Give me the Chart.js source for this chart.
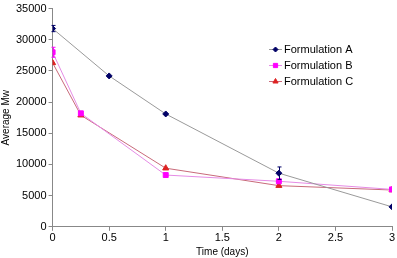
<!DOCTYPE html>
<html>
<head>
<meta charset="utf-8">
<script src="https://cdn.jsdelivr.net/npm/chart.js@4"></script>
<style>
html,body{margin:0;padding:0;background:#fff;}
#wrap{width:397px;height:258px;position:relative;}
</style>
</head>
<body>
<div id="wrap"><canvas id="c" width="397" height="258"></canvas></div>
<script>
// time points (days)
const timesA = [0, 0.5, 1, 2, 3];
const timesB = [0, 0.25, 1, 2, 3];
const timesC = [0, 0.25, 1, 2, 3];

// average Mw
const mwA = [31800, 24200, 18100, 8600, 3200];
const mwB = [28000, 18200, 8300, 7300, 6000];
const mwC = [26300, 17900, 9400, 6600, 5900];

// error (+/-)
const errA = [500, 0, 0, 1000, 0];
const errB = [800, 0, 0, 0, 0];
const errC = [0, 0, 0, 0, 0];

const seriesNames = ['Formulation A', 'Formulation B', 'Formulation C'];
const yTicks = [0, 5000, 10000, 15000, 20000, 25000, 30000, 35000];

function pts(xs, ys, es){
	return xs.map((x, i) => ({x, y: ys[i], e: es[i]}));
}

const fontFam = '"Liberation Sans", Arial, sans-serif';

// error bars, drawn from the dataset values through the scales
const errorBars = {
	id: 'errorBars',
	afterDatasetsDraw(chart) {
		const ctx = chart.ctx;
		const xs = chart.scales.x, ys = chart.scales.y;
		chart.data.datasets.forEach((ds) => {
			ctx.save();
			ctx.strokeStyle = ds.pointBackgroundColor;
			ctx.lineWidth = 1;
			for (const p of ds.data) {
				if (!p.e) continue;
				const px = Math.round(xs.getPixelForValue(p.x)) + 0.5;
				const top = ys.getPixelForValue(p.y + p.e);
				const bot = ys.getPixelForValue(p.y - p.e);
				ctx.beginPath();
				ctx.moveTo(px, top); ctx.lineTo(px, bot);
				ctx.moveTo(px - 2, top); ctx.lineTo(px + 2, top);
				ctx.moveTo(px - 2, bot); ctx.lineTo(px + 2, bot);
				ctx.stroke();
			}
			ctx.restore();
		});
	}
};

// legend inside the plot area, like the original
const innerLegend = {
	id: 'innerLegend',
	afterDraw(chart) {
		const ctx = chart.ctx;
		const x0 = 269, y0 = 49, step = 16;
		ctx.save();
		chart.data.datasets.forEach((ds, i) => {
			const y = y0 + i * step + 0.5;
			ctx.strokeStyle = ds.borderColor;
			ctx.lineWidth = 1;
			ctx.beginPath(); ctx.moveTo(x0, y); ctx.lineTo(x0 + 13, y); ctx.stroke();
			ctx.fillStyle = ds.pointBackgroundColor;
			ctx.strokeStyle = ds.pointBorderColor;
			Chart.helpers.drawPoint(ctx, {
				pointStyle: ds.pointStyle, radius: ds.pointRadius - 0.5, borderWidth: 1
			}, x0 + 6.5, y);
			ctx.fillStyle = '#000';
			ctx.font = '11px ' + fontFam;
			ctx.textBaseline = 'middle';
			ctx.fillText(ds.label, x0 + 15, y);
		});
		ctx.restore();
	}
};

new Chart(document.getElementById('c'), {
	type: 'line',
	data: {
		datasets: [
			{
				label: seriesNames[0],
				data: pts(timesA, mwA, errA),
				borderColor: '#9a9a9a',
				borderWidth: 1,
				pointStyle: 'rectRot',
				pointRadius: 3,
				pointBackgroundColor: '#000066',
				pointBorderColor: '#000066',
				pointBorderWidth: 1
			},
			{
				label: seriesNames[1],
				data: pts(timesB, mwB, errB),
				borderColor: '#e58be5',
				borderWidth: 1,
				pointStyle: 'rect',
				pointRadius: 3.5,
				pointBackgroundColor: '#ff00ff',
				pointBorderColor: '#ff00ff',
				pointBorderWidth: 1
			},
			{
				label: seriesNames[2],
				data: pts(timesC, mwC, errC),
				borderColor: '#c86a7a',
				borderWidth: 1,
				pointStyle: 'triangle',
				pointRadius: 3.5,
				pointBackgroundColor: '#dd2222',
				pointBorderColor: '#dd2222',
				pointBorderWidth: 1
			}
		]
	},
	options: {
		responsive: false,
		animation: false,
		layout: { padding: { left: 0, right: 3, top: 4, bottom: 0 } },
		plugins: { legend: { display: false }, tooltip: { enabled: false } },
		scales: {
			x: {
				type: 'linear',
				min: 0, max: 3,
				ticks: { stepSize: 0.5, color: '#000', font: { size: 11, family: fontFam }, padding: 1,
					callback: v => String(v) },
				grid: { drawOnChartArea: false, color: '#888', tickLength: 4 },
				border: { color: '#888' },
				title: { display: true, text: 'Time (days)', color: '#000', font: { size: 10, family: fontFam }, padding: { top: 0, bottom: 0 } }
			},
			y: {
				min: 0, max: 35000,
				afterBuildTicks: axis => { axis.ticks = yTicks.map(v => ({ value: v })); },
				ticks: { color: '#000', font: { size: 11, family: fontFam }, padding: 2,
					callback: v => String(v) },
				grid: { drawOnChartArea: false, color: '#888', tickLength: 4 },
				border: { color: '#888' },
				title: { display: true, text: 'Average Mw', color: '#000', font: { size: 10, family: fontFam }, padding: { top: 0, bottom: 2 } }
			}
		}
	},
	plugins: [errorBars, innerLegend]
});
</script>
</body>
</html>
